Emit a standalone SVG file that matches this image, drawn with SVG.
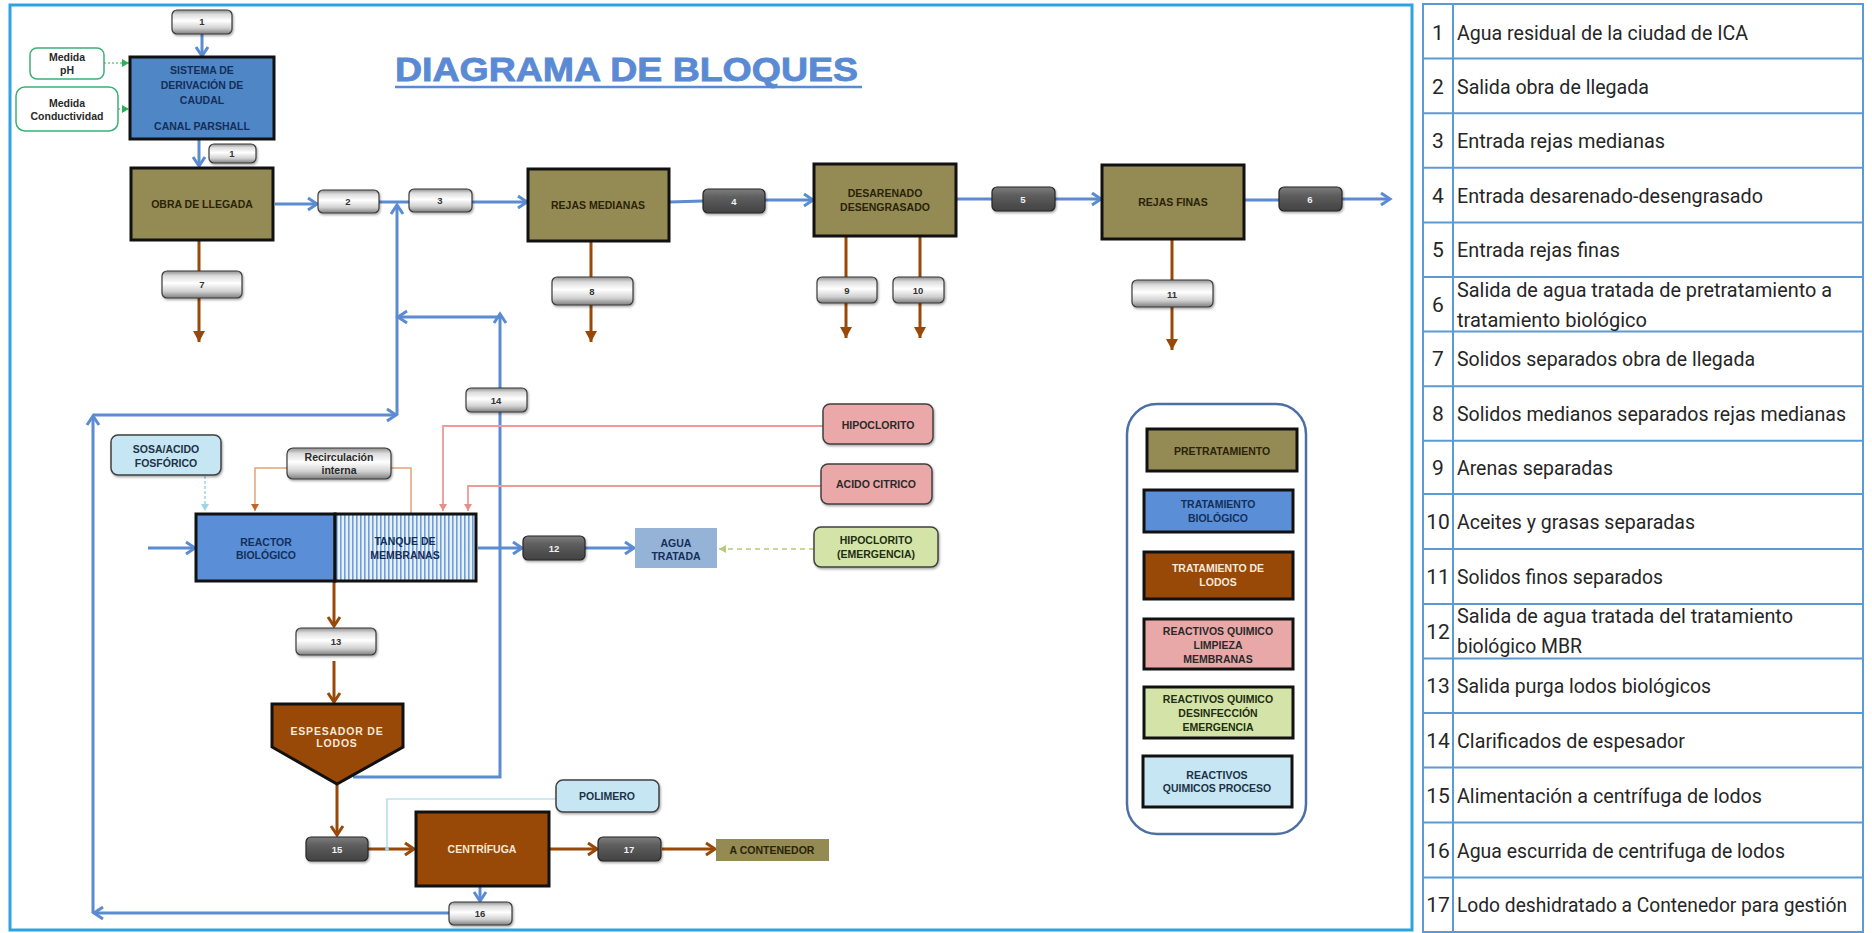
<svg xmlns="http://www.w3.org/2000/svg" width="1872" height="933" viewBox="0 0 1872 933">
<style>
.bx{font-family:"Liberation Sans",Arial,sans-serif;font-weight:bold;font-size:10.5px;text-anchor:middle}
.olive{fill:#948a54;stroke:#111;stroke-width:3}
.blue{fill:#4f86c6;stroke:#111;stroke-width:3}
.brown{fill:#984807;stroke:#111;stroke-width:3}
.tOl{fill:#2a2308}
.tBl{fill:#142f5a}
.tBr{fill:#f7e9da}
.tDk{fill:#2a2a2a}
.chipL{fill:url(#gL);stroke:#3a3a3a;stroke-width:1.2;filter:url(#sh)}
.chipD{fill:url(#gD);stroke:#262626;stroke-width:1.2;filter:url(#sh)}
.num{font-family:"Liberation Sans",Arial,sans-serif;font-weight:bold;font-size:9.5px;text-anchor:middle}
.nL{fill:#333}
.nD{fill:#f2f2f2}
.lb{fill:none;stroke:#5b8bd0;stroke-width:3}
.lr{fill:none;stroke:#984807;stroke-width:3}
.tb{font-family:Roboto,"Liberation Sans",sans-serif;font-size:21px;fill:#262626}
.tn{font-family:Roboto,"Liberation Sans",sans-serif;font-size:21px;fill:#262626;text-anchor:middle}
.grid{stroke:#5b9bd5;stroke-width:2;fill:none}
</style>
<defs>
<linearGradient id="gL" x1="0" y1="0" x2="0" y2="1">
<stop offset="0" stop-color="#8f8f8f"/><stop offset="0.18" stop-color="#dcdcdc"/><stop offset="0.45" stop-color="#ffffff"/><stop offset="0.75" stop-color="#d2d2d2"/><stop offset="1" stop-color="#7f7f7f"/>
</linearGradient>
<linearGradient id="gD" x1="0" y1="0" x2="0" y2="1">
<stop offset="0" stop-color="#7d7d7d"/><stop offset="0.35" stop-color="#5e5e5e"/><stop offset="1" stop-color="#424242"/>
</linearGradient>
<pattern id="stripes" width="4" height="10" patternUnits="userSpaceOnUse">
<rect width="4" height="10" fill="#e8f0fa"/><rect x="0" width="1.6" height="10" fill="#6f9fd8"/>
</pattern>
<filter id="sh" x="-10%" y="-10%" width="130%" height="140%">
<feDropShadow dx="1" dy="1.5" stdDeviation="1" flood-color="#000" flood-opacity="0.35"/>
</filter>
<marker id="aB" markerWidth="16" markerHeight="16" refX="12" refY="8" orient="auto" markerUnits="userSpaceOnUse">
<path d="M3,2 L12,8 L3,14" fill="none" stroke="#5b8bd0" stroke-width="3"/>
</marker>
<marker id="aR" markerWidth="16" markerHeight="16" refX="12" refY="8" orient="auto" markerUnits="userSpaceOnUse">
<path d="M3,2 L12,8 L3,14" fill="none" stroke="#984807" stroke-width="3"/>
</marker>
<marker id="aRf" markerWidth="12" markerHeight="12" refX="11" refY="6" orient="auto" markerUnits="userSpaceOnUse">
<path d="M0,0 L11,6 L0,12 z" fill="#984807"/>
</marker>
<marker id="aP" markerWidth="8" markerHeight="8" refX="7" refY="4" orient="auto" markerUnits="userSpaceOnUse">
<path d="M0,0 L7,4 L0,8 z" fill="#e88c8c"/>
</marker>
<marker id="aO" markerWidth="8" markerHeight="8" refX="7" refY="4" orient="auto" markerUnits="userSpaceOnUse">
<path d="M0,0 L7,4 L0,8 z" fill="#c0662a"/>
</marker>
<marker id="aG" markerWidth="8" markerHeight="8" refX="7" refY="4" orient="auto" markerUnits="userSpaceOnUse">
<path d="M0,0 L7,4 L0,8 z" fill="#2fae5a"/>
</marker>
<marker id="aGl" markerWidth="8" markerHeight="8" refX="7" refY="4" orient="auto" markerUnits="userSpaceOnUse">
<path d="M0,0 L7,4 L0,8 z" fill="#b5cc7a"/>
</marker>
<marker id="aLb" markerWidth="8" markerHeight="8" refX="7" refY="4" orient="auto" markerUnits="userSpaceOnUse">
<path d="M0,0 L7,4 L0,8 z" fill="#9fd3e6"/>
</marker>
</defs>
<rect width="1872" height="933" fill="#ffffff"/>
<rect x="10" y="5" width="1402" height="925" fill="none" stroke="#2ea3e0" stroke-width="3"/>

<g id="title">
<text x="395" y="81" font-family="'Liberation Sans',Arial,sans-serif" font-weight="bold" font-size="33" fill="#5a8ad4" stroke="#5a8ad4" stroke-width="0.8" textLength="463" lengthAdjust="spacingAndGlyphs">DIAGRAMA DE BLOQUES</text>
<line x1="395" y1="87" x2="862" y2="87" stroke="#5a8ad4" stroke-width="2.5"/>
</g>

<g id="connectors">
<line class="lb" x1="202" y1="34" x2="202" y2="56" marker-end="url(#aB)"/>
<line class="lb" x1="199" y1="140" x2="199" y2="166" marker-end="url(#aB)"/>
<line class="lb" x1="275" y1="204" x2="317" y2="204" marker-end="url(#aB)"/>
<line class="lb" x1="379" y1="202" x2="409" y2="202"/>
<line class="lb" x1="472" y1="202" x2="527" y2="202" marker-end="url(#aB)"/>
<line class="lb" x1="670" y1="202" x2="703" y2="201"/>
<line class="lb" x1="765" y1="200" x2="813" y2="200" marker-end="url(#aB)"/>
<line class="lb" x1="957" y1="199" x2="992" y2="199"/>
<line class="lb" x1="1055" y1="199" x2="1101" y2="199" marker-end="url(#aB)"/>
<line class="lb" x1="1245" y1="200" x2="1279" y2="200"/>
<line class="lb" x1="1342" y1="199" x2="1390" y2="199" marker-end="url(#aB)"/>
<line class="lb" x1="449" y1="913" x2="94" y2="913" marker-end="url(#aB)"/>
<line class="lb" x1="93" y1="913" x2="93" y2="416" marker-end="url(#aB)"/>
<line class="lb" x1="93" y1="415" x2="396" y2="415" marker-end="url(#aB)"/>
<line class="lb" x1="397" y1="415" x2="397" y2="205" marker-end="url(#aB)"/>
<polyline class="lb" points="353,777 500,777 500,314" marker-end="url(#aB)"/>
<line class="lb" x1="500" y1="317" x2="398" y2="317" marker-end="url(#aB)"/>
<line class="lb" x1="148" y1="548" x2="195" y2="548" marker-end="url(#aB)"/>
<line class="lb" x1="478" y1="548" x2="522" y2="548" marker-end="url(#aB)"/>
<line class="lb" x1="585" y1="548" x2="634" y2="548" marker-end="url(#aB)"/>
<line class="lb" x1="480" y1="887" x2="480" y2="901" marker-end="url(#aB)"/>
<line class="lr" x1="199" y1="241" x2="199" y2="271"/>
<line class="lr" x1="199" y1="298" x2="199" y2="342" marker-end="url(#aRf)"/>
<line class="lr" x1="591" y1="242" x2="591" y2="277"/>
<line class="lr" x1="591" y1="305" x2="591" y2="342" marker-end="url(#aRf)"/>
<line class="lr" x1="846" y1="237" x2="846" y2="277"/>
<line class="lr" x1="846" y1="303" x2="846" y2="338" marker-end="url(#aRf)"/>
<line class="lr" x1="920" y1="237" x2="920" y2="277"/>
<line class="lr" x1="920" y1="303" x2="920" y2="338" marker-end="url(#aRf)"/>
<line class="lr" x1="1172" y1="240" x2="1172" y2="280"/>
<line class="lr" x1="1172" y1="307" x2="1172" y2="350" marker-end="url(#aRf)"/>
<line class="lr" x1="334" y1="582" x2="334" y2="626" marker-end="url(#aR)"/>
<line class="lr" x1="334" y1="661" x2="334" y2="702" marker-end="url(#aR)"/>
<line class="lr" x1="337" y1="785" x2="337" y2="835" marker-end="url(#aR)"/>
<line class="lr" x1="368" y1="849" x2="414" y2="849" marker-end="url(#aR)"/>
<line class="lr" x1="550" y1="849" x2="597" y2="849" marker-end="url(#aR)"/>
<line class="lr" x1="662" y1="849" x2="715" y2="849" marker-end="url(#aR)"/>
<line x1="104" y1="63" x2="129" y2="63" stroke="#2fae5a" stroke-width="1.2" stroke-dasharray="2,2" marker-end="url(#aG)"/>
<line x1="118" y1="109" x2="129" y2="109" stroke="#2fae5a" stroke-width="1.2" stroke-dasharray="2,2" marker-end="url(#aG)"/>
<line x1="205" y1="476" x2="205" y2="511" stroke="#9fd3e6" stroke-width="1.5" stroke-dasharray="3,2" marker-end="url(#aLb)"/>
<polyline points="287,468 255,468 255,511" fill="none" stroke="#e2a27a" stroke-width="1.5" marker-end="url(#aO)"/>
<polyline points="391,468 411,468 411,513" fill="none" stroke="#e2a27a" stroke-width="1.5"/>
<polyline points="823,426 443,426 443,511" fill="none" stroke="#ee9a9a" stroke-width="1.8" marker-end="url(#aP)"/>
<polyline points="821,486 468,486 468,511" fill="none" stroke="#ee9a9a" stroke-width="1.8" marker-end="url(#aP)"/>
<line x1="814" y1="549" x2="719" y2="549" stroke="#b5cc7a" stroke-width="1.5" stroke-dasharray="5,4" marker-end="url(#aGl)"/>
<polyline points="556,799 387,799 387,849" fill="none" stroke="#9fd3e6" stroke-width="1.2"/>
<circle cx="387" cy="849" r="2" fill="#9fd3e6"/>
</g>

<g id="medida-ph">
<rect x="30" y="48" width="74" height="31" rx="7" fill="#fff" stroke="#3fae77" stroke-width="1.5"/>
<text class="bx tDk" x="67" y="61" font-size="9">Medida</text>
<text class="bx tDk" x="67" y="74" font-size="9">pH</text>
</g>
<g id="medida-conductividad">
<rect x="16" y="87" width="102" height="44" rx="9" fill="#fff" stroke="#3fae77" stroke-width="1.5"/>
<text class="bx tDk" x="67" y="107" font-size="9">Medida</text>
<text class="bx tDk" x="67" y="120" font-size="9">Conductividad</text>
</g>
<g id="sistema">
<rect class="blue" x="130" y="57" width="144" height="82"/>
<text class="bx tBl" x="202" y="74">SISTEMA DE</text>
<text class="bx tBl" x="202" y="89">DERIVACIÓN DE</text>
<text class="bx tBl" x="202" y="104">CAUDAL</text>
<text class="bx tBl" x="202" y="130">CANAL PARSHALL</text>
</g>
<g id="obra">
<rect class="olive" x="131" y="168" width="142" height="72"/>
<text class="bx tOl" x="202" y="208">OBRA DE LLEGADA</text>
</g>
<g id="rejas-medianas">
<rect class="olive" x="528" y="169" width="141" height="72"/>
<text class="bx tOl" x="598" y="209">REJAS MEDIANAS</text>
</g>
<g id="desarenado">
<rect class="olive" x="814" y="164" width="142" height="72"/>
<text class="bx tOl" x="885" y="197">DESARENADO</text>
<text class="bx tOl" x="885" y="211">DESENGRASADO</text>
</g>
<g id="rejas-finas">
<rect class="olive" x="1102" y="165" width="142" height="74"/>
<text class="bx tOl" x="1173" y="206">REJAS FINAS</text>
</g>

<g id="sosa">
<rect x="111" y="435" width="110" height="40" rx="7" fill="#c5e6f2" stroke="#404040" stroke-width="1.5" filter="url(#sh)"/>
<text class="bx" x="166" y="453" fill="#1d3347">SOSA/ACIDO</text>
<text class="bx" x="166" y="467" fill="#1d3347">FOSFÓRICO</text>
</g>
<g id="recirculacion">
<rect class="chipL" x="287" y="448" width="104" height="31" rx="6"/>
<text class="bx tDk" x="339" y="461" font-size="9.5">Recirculación</text>
<text class="bx tDk" x="339" y="474" font-size="9.5">interna</text>
</g>
<g id="reactor">
<rect x="196" y="514" width="139" height="67" fill="#5a8fd8" stroke="#111" stroke-width="3"/>
<text class="bx tBl" x="266" y="546">REACTOR</text>
<text class="bx tBl" x="266" y="559">BIOLÓGICO</text>
</g>
<g id="tanque">
<rect x="335" y="514" width="141" height="67" fill="url(#stripes)" stroke="#111" stroke-width="3"/>
<text class="bx tBl" x="405" y="545">TANQUE DE</text>
<text class="bx tBl" x="405" y="559">MEMBRANAS</text>
</g>
<g id="hipoclorito">
<rect x="823" y="404" width="110" height="40" rx="7" fill="#eba8a8" stroke="#404040" stroke-width="1.5" filter="url(#sh)"/>
<text class="bx tDk" x="878" y="429">HIPOCLORITO</text>
</g>
<g id="acido-citrico">
<rect x="821" y="464" width="111" height="40" rx="7" fill="#eba8a8" stroke="#404040" stroke-width="1.5" filter="url(#sh)"/>
<text class="bx tDk" x="876" y="488">ACIDO CITRICO</text>
</g>
<g id="agua-tratada">
<rect x="635" y="528" width="82" height="40" fill="#95b3d7"/>
<text class="bx tBl" x="676" y="547">AGUA</text>
<text class="bx tBl" x="676" y="560">TRATADA</text>
</g>
<g id="hipoclorito-emergencia">
<rect x="814" y="527" width="124" height="40" rx="7" fill="#d4e4a8" stroke="#404040" stroke-width="1.5" filter="url(#sh)"/>
<text class="bx" x="876" y="544" fill="#1e2e10">HIPOCLORITO</text>
<text class="bx" x="876" y="558" fill="#1e2e10">(EMERGENCIA)</text>
</g>
<g id="espesador">
<polygon points="272,704 403,704 403,747 337,784 272,747" fill="#984807" stroke="#111" stroke-width="3"/>
<text class="bx tBr" x="337" y="735" letter-spacing="0.8">ESPESADOR DE</text>
<text class="bx tBr" x="337" y="747" letter-spacing="0.8">LODOS</text>
</g>
<g id="centrifuga">
<rect class="brown" x="416" y="812" width="133" height="74"/>
<text class="bx tBr" x="482" y="853">CENTRÍFUGA</text>
</g>
<g id="polimero">
<rect x="556" y="780" width="103" height="32" rx="7" fill="#c5e6f2" stroke="#404040" stroke-width="1.5" filter="url(#sh)"/>
<text class="bx" x="607" y="800" fill="#1d3347">POLIMERO</text>
</g>
<g id="a-contenedor">
<rect x="716" y="839" width="113" height="22" fill="#948a54"/>
<text class="bx tOl" x="772" y="854" font-size="10">A CONTENEDOR</text>
</g>

<g id="chips">
<g id="c1a"><rect class="chipL" x="172" y="10" width="60" height="24" rx="5"/><text class="num nL" x="202" y="25">1</text></g>
<g id="c1b"><rect class="chipL" x="209" y="144" width="47" height="19" rx="5"/><text class="num nL" x="232" y="157">1</text></g>
<g id="c2"><rect class="chipL" x="318" y="190" width="61" height="23" rx="5"/><text class="num nL" x="348" y="205">2</text></g>
<g id="c3"><rect class="chipL" x="409" y="189" width="63" height="23" rx="5"/><text class="num nL" x="440" y="204">3</text></g>
<g id="c4"><rect class="chipD" x="703" y="189" width="62" height="24" rx="5"/><text class="num nD" x="734" y="205">4</text></g>
<g id="c5"><rect class="chipD" x="992" y="187" width="63" height="24" rx="5"/><text class="num nD" x="1023" y="203">5</text></g>
<g id="c6"><rect class="chipD" x="1279" y="187" width="63" height="24" rx="5"/><text class="num nD" x="1310" y="203">6</text></g>
<g id="c7"><rect class="chipL" x="162" y="271" width="80" height="27" rx="5"/><text class="num nL" x="202" y="288">7</text></g>
<g id="c8"><rect class="chipL" x="552" y="277" width="81" height="28" rx="5"/><text class="num nL" x="592" y="295">8</text></g>
<g id="c9"><rect class="chipL" x="817" y="277" width="60" height="26" rx="5"/><text class="num nL" x="847" y="294">9</text></g>
<g id="c10"><rect class="chipL" x="893" y="277" width="51" height="26" rx="5"/><text class="num nL" x="918" y="294">10</text></g>
<g id="c11"><rect class="chipL" x="1132" y="280" width="81" height="27" rx="5"/><text class="num nL" x="1172" y="298">11</text></g>
<g id="c12"><rect class="chipD" x="523" y="536" width="62" height="24" rx="5"/><text class="num nD" x="554" y="552">12</text></g>
<g id="c13"><rect class="chipL" x="296" y="628" width="80" height="27" rx="5"/><text class="num nL" x="336" y="645">13</text></g>
<g id="c14"><rect class="chipL" x="466" y="388" width="61" height="24" rx="5"/><text class="num nL" x="496" y="404">14</text></g>
<g id="c15"><rect class="chipD" x="306" y="837" width="62" height="24" rx="5"/><text class="num nD" x="337" y="853">15</text></g>
<g id="c16"><rect class="chipL" x="449" y="902" width="63" height="23" rx="5"/><text class="num nL" x="480" y="917">16</text></g>
<g id="c17"><rect class="chipD" x="598" y="837" width="63" height="24" rx="5"/><text class="num nD" x="629" y="853">17</text></g>
</g>

<g id="legend">
<rect x="1127" y="404" width="179" height="430" rx="30" fill="#fff" stroke="#4d6fa3" stroke-width="2.5"/>
<g id="lg-pre"><rect x="1147" y="429" width="150" height="42" fill="#948a54" stroke="#111" stroke-width="3"/>
<text class="bx tOl" x="1222" y="455" font-size="11">PRETRATAMIENTO</text></g>
<g id="lg-bio"><rect x="1144" y="490" width="149" height="42" fill="#5a8fd8" stroke="#111" stroke-width="3"/>
<text class="bx tBl" x="1218" y="508" font-size="11">TRATAMIENTO</text><text class="bx tBl" x="1218" y="522" font-size="11">BIOLÓGICO</text></g>
<g id="lg-lodos"><rect x="1144" y="552" width="149" height="47" fill="#984807" stroke="#111" stroke-width="3"/>
<text class="bx tBr" x="1218" y="572" font-size="11">TRATAMIENTO DE</text><text class="bx tBr" x="1218" y="586" font-size="11">LODOS</text></g>
<g id="lg-limpieza"><rect x="1144" y="619" width="149" height="50" fill="#e8a8a8" stroke="#111" stroke-width="3"/>
<text class="bx tDk" x="1218" y="635" font-size="11">REACTIVOS QUIMICO</text><text class="bx tDk" x="1218" y="649" font-size="11">LIMPIEZA</text><text class="bx tDk" x="1218" y="663" font-size="11">MEMBRANAS</text></g>
<g id="lg-desinf"><rect x="1144" y="687" width="149" height="51" fill="#d4e4a8" stroke="#111" stroke-width="3"/>
<text class="bx" x="1218" y="703" font-size="11" fill="#1e2e10">REACTIVOS QUIMICO</text><text class="bx" x="1218" y="717" font-size="11" fill="#1e2e10">DESINFECCIÓN</text><text class="bx" x="1218" y="731" font-size="11" fill="#1e2e10">EMERGENCIA</text></g>
<g id="lg-proceso"><rect x="1143" y="756" width="149" height="51" fill="#c5e6f2" stroke="#111" stroke-width="3"/>
<text class="bx" x="1217" y="779" font-size="11" fill="#1d3347">REACTIVOS</text><text class="bx" x="1217" y="792" font-size="11" fill="#1d3347">QUIMICOS PROCESO</text></g>
</g>

<g id="table">
<rect class="grid" x="1423" y="4" width="440" height="928"/>
<line class="grid" x1="1453" y1="4" x2="1453" y2="932"/>
<line class="grid" x1="1423" y1="58.6" x2="1863" y2="58.6"/>
<line class="grid" x1="1423" y1="113.2" x2="1863" y2="113.2"/>
<line class="grid" x1="1423" y1="167.8" x2="1863" y2="167.8"/>
<line class="grid" x1="1423" y1="222.4" x2="1863" y2="222.4"/>
<line class="grid" x1="1423" y1="277" x2="1863" y2="277"/>
<line class="grid" x1="1423" y1="331.6" x2="1863" y2="331.6"/>
<line class="grid" x1="1423" y1="386.2" x2="1863" y2="386.2"/>
<line class="grid" x1="1423" y1="440.8" x2="1863" y2="440.8"/>
<line class="grid" x1="1423" y1="494" x2="1863" y2="494"/>
<line class="grid" x1="1423" y1="549" x2="1863" y2="549"/>
<line class="grid" x1="1423" y1="604" x2="1863" y2="604"/>
<line class="grid" x1="1423" y1="658.5" x2="1863" y2="658.5"/>
<line class="grid" x1="1423" y1="713" x2="1863" y2="713"/>
<line class="grid" x1="1423" y1="767.5" x2="1863" y2="767.5"/>
<line class="grid" x1="1423" y1="822.5" x2="1863" y2="822.5"/>
<line class="grid" x1="1423" y1="877.5" x2="1863" y2="877.5"/>
<text class="tn" x="1438" y="40">1</text><text class="tb" x="1457" y="40" textLength="291" lengthAdjust="spacingAndGlyphs">Agua residual de la ciudad de ICA</text>
<text class="tn" x="1438" y="94">2</text><text class="tb" x="1457" y="94" textLength="192" lengthAdjust="spacingAndGlyphs">Salida obra de llegada</text>
<text class="tn" x="1438" y="148">3</text><text class="tb" x="1457" y="148" textLength="208" lengthAdjust="spacingAndGlyphs">Entrada rejas medianas</text>
<text class="tn" x="1438" y="203">4</text><text class="tb" x="1457" y="203" textLength="306" lengthAdjust="spacingAndGlyphs">Entrada desarenado-desengrasado</text>
<text class="tn" x="1438" y="257">5</text><text class="tb" x="1457" y="257" textLength="163" lengthAdjust="spacingAndGlyphs">Entrada rejas finas</text>
<text class="tn" x="1438" y="312">6</text><text class="tb" x="1457" y="297" textLength="375" lengthAdjust="spacingAndGlyphs">Salida de agua tratada de pretratamiento a</text><text class="tb" x="1457" y="327" textLength="190" lengthAdjust="spacingAndGlyphs">tratamiento biológico</text>
<text class="tn" x="1438" y="366">7</text><text class="tb" x="1457" y="366" textLength="298" lengthAdjust="spacingAndGlyphs">Solidos separados obra de llegada</text>
<text class="tn" x="1438" y="421">8</text><text class="tb" x="1457" y="421" font-size="20" textLength="389" lengthAdjust="spacingAndGlyphs">Solidos medianos separados rejas medianas</text>
<text class="tn" x="1438" y="475">9</text><text class="tb" x="1457" y="475" textLength="156" lengthAdjust="spacingAndGlyphs">Arenas separadas</text>
<text class="tn" x="1438" y="529">10</text><text class="tb" x="1457" y="529" textLength="238" lengthAdjust="spacingAndGlyphs">Aceites y grasas separadas</text>
<text class="tn" x="1438" y="584">11</text><text class="tb" x="1457" y="584" textLength="206" lengthAdjust="spacingAndGlyphs">Solidos finos separados</text>
<text class="tn" x="1438" y="639">12</text><text class="tb" x="1457" y="623" textLength="336" lengthAdjust="spacingAndGlyphs">Salida de agua tratada del tratamiento</text><text class="tb" x="1457" y="653" textLength="125" lengthAdjust="spacingAndGlyphs">biológico MBR</text>
<text class="tn" x="1438" y="693">13</text><text class="tb" x="1457" y="693" textLength="254" lengthAdjust="spacingAndGlyphs">Salida purga lodos biológicos</text>
<text class="tn" x="1438" y="748">14</text><text class="tb" x="1457" y="748" textLength="228" lengthAdjust="spacingAndGlyphs">Clarificados de espesador</text>
<text class="tn" x="1438" y="803">15</text><text class="tb" x="1457" y="803" textLength="305" lengthAdjust="spacingAndGlyphs">Alimentación a centrífuga de lodos</text>
<text class="tn" x="1438" y="858">16</text><text class="tb" x="1457" y="858" textLength="328" lengthAdjust="spacingAndGlyphs">Agua escurrida de centrifuga de lodos</text>
<text class="tn" x="1438" y="912">17</text><text class="tb" x="1457" y="912" font-size="17" textLength="390" lengthAdjust="spacingAndGlyphs">Lodo deshidratado a Contenedor para gestión</text>
</g>
</svg>
